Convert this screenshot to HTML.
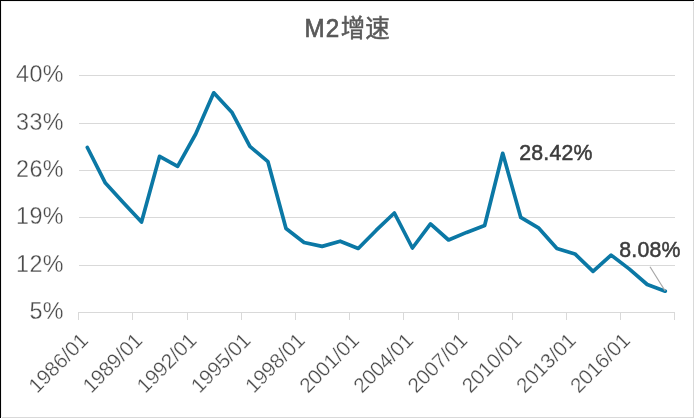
<!DOCTYPE html>
<html lang="zh"><head><meta charset="utf-8"><title>M2增速</title>
<style>html,body{margin:0;padding:0;background:#fff;}body{width:694px;height:418px;overflow:hidden;font-family:"Liberation Sans",sans-serif;}svg{display:block;will-change:transform;}text{font-family:"Liberation Sans",sans-serif;}</style></head><body>
<svg width="694" height="418" viewBox="0 0 694 418">
<rect x="0" y="0" width="694" height="418" fill="#fff"/>
<rect x="2" y="417" width="692" height="1" fill="#d9d9d9"/><rect x="693" y="2" width="1" height="416" fill="#d9d9d9"/><rect x="1" y="1" width="692" height="1" fill="#f0f0f0"/><rect x="1" y="1" width="1" height="416" fill="#f0f0f0"/><rect x="0" y="0" width="694" height="1" fill="#000"/><rect x="0" y="0" width="1" height="418" fill="#000"/>
<g stroke="#d9d9d9" stroke-width="1" fill="none">
<line x1="79" y1="75.5" x2="675" y2="75.5"/>
<line x1="79" y1="123.5" x2="675" y2="123.5"/>
<line x1="79" y1="170.5" x2="675" y2="170.5"/>
<line x1="79" y1="217.5" x2="675" y2="217.5"/>
<line x1="79" y1="265.5" x2="675" y2="265.5"/>
<line x1="78" y1="312.5" x2="675" y2="312.5"/>
<line x1="78.50" y1="312.5" x2="78.50" y2="320"/>
<line x1="132.50" y1="312.5" x2="132.50" y2="320"/>
<line x1="187.50" y1="312.5" x2="187.50" y2="320"/>
<line x1="241.50" y1="312.5" x2="241.50" y2="320"/>
<line x1="295.50" y1="312.5" x2="295.50" y2="320"/>
<line x1="349.50" y1="312.5" x2="349.50" y2="320"/>
<line x1="403.50" y1="312.5" x2="403.50" y2="320"/>
<line x1="458.50" y1="312.5" x2="458.50" y2="320"/>
<line x1="512.50" y1="312.5" x2="512.50" y2="320"/>
<line x1="566.50" y1="312.5" x2="566.50" y2="320"/>
<line x1="620.50" y1="312.5" x2="620.50" y2="320"/>
<line x1="674.50" y1="312.5" x2="674.50" y2="320"/>
</g>
<g font-size="23.3" fill="#4a4a4a" text-anchor="end" letter-spacing="0.45" stroke="#fff" stroke-width="0.3">
<text x="64.0" y="81.90">40%</text>
<text x="64.0" y="129.90">33%</text>
<text x="64.0" y="176.90">26%</text>
<text x="64.0" y="223.90">19%</text>
<text x="64.0" y="271.90">12%</text>
<text x="64.0" y="318.90">5%</text>
</g>
<g font-size="20.7" fill="#4a4a4a" text-anchor="end" stroke="#fff" stroke-width="0.3">
<text transform="translate(89.38 341.70) rotate(-45)" letter-spacing="-0.1">1986/01</text>
<text transform="translate(143.56 341.70) rotate(-45)" letter-spacing="-0.1">1989/01</text>
<text transform="translate(197.74 341.70) rotate(-45)" letter-spacing="-0.1">1992/01</text>
<text transform="translate(251.93 341.70) rotate(-45)" letter-spacing="-0.1">1995/01</text>
<text transform="translate(306.11 341.70) rotate(-45)" letter-spacing="-0.1">1998/01</text>
<text transform="translate(360.29 341.70) rotate(-45)" letter-spacing="-0.1">2001/01</text>
<text transform="translate(414.47 341.70) rotate(-45)" letter-spacing="-0.1">2004/01</text>
<text transform="translate(468.65 341.70) rotate(-45)" letter-spacing="-0.1">2007/01</text>
<text transform="translate(522.83 341.70) rotate(-45)" letter-spacing="-0.1">2010/01</text>
<text transform="translate(577.02 341.70) rotate(-45)" letter-spacing="-0.1">2013/01</text>
<text transform="translate(631.20 341.70) rotate(-45)" letter-spacing="-0.1">2016/01</text>
</g>
<path d="M87.33 147.50 L105.39 183.10 L123.45 202.70 L141.51 222.10 L159.57 156.30 L177.63 166.40 L195.69 134.00 L213.75 92.80 L231.82 112.20 L249.88 146.40 L267.94 161.70 L286.00 228.50 L304.06 242.50 L322.12 246.40 L340.18 241.20 L358.24 248.50 L376.30 230.20 L394.36 213.00 L412.42 248.00 L430.48 223.90 L448.54 240.00 L466.60 232.40 L484.66 225.50 L502.72 153.30 L520.78 217.40 L538.85 228.20 L556.91 248.40 L574.97 253.90 L593.03 271.40 L611.09 255.10 L629.15 268.90 L647.21 284.50 L665.27 291.20" fill="none" stroke="#0b78a5" stroke-width="3.7" stroke-linejoin="round" stroke-linecap="round"/>
<line x1="650.0" y1="266.7" x2="665.2" y2="291.0" stroke="#a6a6a6" stroke-width="1.2"/>
<g font-size="21.3" fill="#3c3c3c" stroke="#3c3c3c" stroke-width="0.5" letter-spacing="0.2"><text x="619.3" y="256.6">8.08%</text><text x="519.2" y="159.7">28.42%</text></g>
<text transform="translate(304.5 36.9) scale(0.95 1.027)" font-size="25.5" fill="#595959" stroke="#595959" stroke-width="0.7" letter-spacing="1.2">M2</text>
<text x="340.7" y="37.0" font-size="24.5" fill="#595959" stroke="#595959" stroke-width="0.45" style="font-family:'Liberation Sans','Noto Sans CJK SC',sans-serif;">增速</text>
</svg></body></html>
